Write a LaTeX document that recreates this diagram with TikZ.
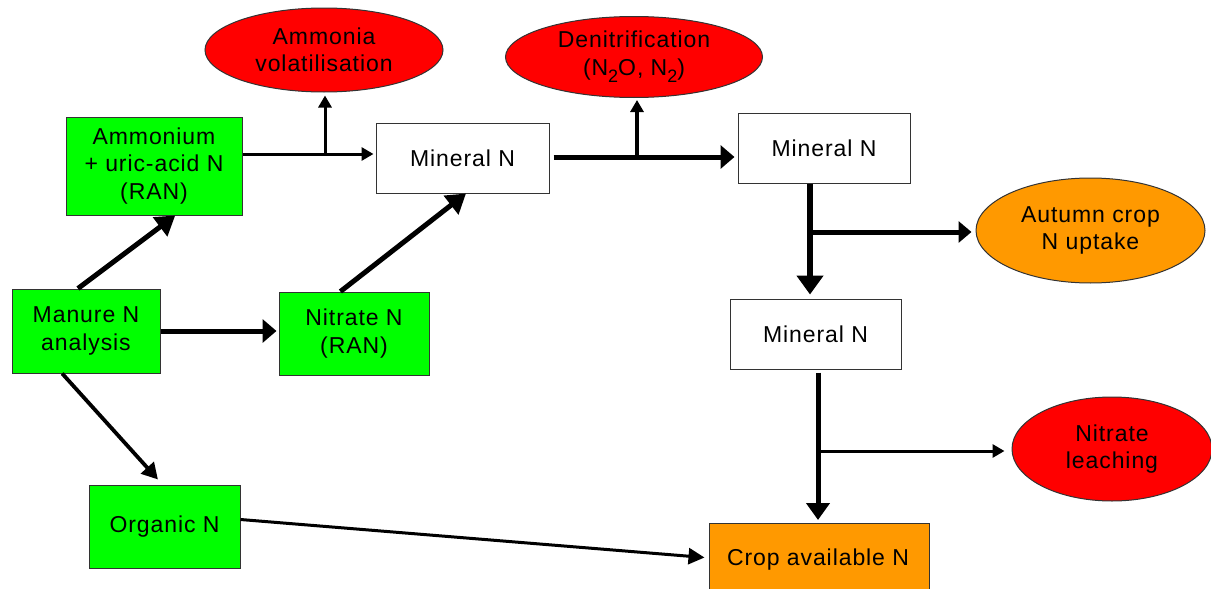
\documentclass[tikz,border=0pt]{standalone}
\usepackage{fontspec}
\setmainfont[LetterSpace=4]{Liberation Sans}
\usetikzlibrary{shapes.geometric,arrows.meta,calc}
\definecolor{brightgreen}{HTML}{00FF00}
\definecolor{brightred}{HTML}{FF0000}
\definecolor{cropor}{HTML}{FF9900}
\begin{document}
\begin{tikzpicture}[x=1pt,y=-1pt,
  lbl/.style={align=center,inner sep=0pt,font=\fontsize{23}{27.5}\selectfont},
  gbox/.style={lbl,rectangle,draw=black!80,line width=1pt,fill=brightgreen},
  wbox/.style={lbl,rectangle,draw=black!80,line width=1pt,fill=white},
  obox/.style={lbl,rectangle,draw=black!80,line width=1pt,fill=cropor},
  rell/.style={lbl,ellipse,draw=black!80,line width=1pt,fill=brightred},
  oell/.style={lbl,ellipse,draw=black!80,line width=1pt,fill=cropor},
  thinar/.style={line width=3pt,-{Triangle[length=12pt,width=13pt]}},
  thickar/.style={line width=5pt,-{Triangle[length=14pt,width=23pt]}},
  bigar/.style={line width=5.5pt,-{Triangle[length=19pt,width=26pt]}},
  midar/.style={line width=3.8pt,-{Triangle[length=16pt,width=17pt]}}
]
\useasboundingbox (0,0) rectangle (1211,589);

% nodes
\node[rell,minimum width=238pt,minimum height=84pt] (amv) at (324,50) {Ammonia\\volatilisation};
\node[rell,minimum width=257pt,minimum height=81pt] (den) at (634,57) {Denitrification\\(N\raisebox{-0.6ex}{\fontsize{18}{18}\selectfont 2}O, N\raisebox{-0.6ex}{\fontsize{18}{18}\selectfont 2})};
\node[gbox,minimum width=176pt,minimum height=98pt] (amm) at (154,166) {Ammonium\\+ uric-acid N\\(RAN)};
\node[wbox,minimum width=173pt,minimum height=70pt] (min1) at (462.5,158) {Mineral N};
\node[wbox,minimum width=172pt,minimum height=70pt] (min2) at (824,148) {Mineral N};
\node[oell,minimum width=229pt,minimum height=105pt] (aut) at (1090.5,230.5) {Autumn crop\\N uptake};
\node[wbox,minimum width=171pt,minimum height=70pt] (min3) at (815.5,334) {Mineral N};
\node[gbox,minimum width=148pt,minimum height=84pt] (man) at (86,331) {Manure N\\analysis};
\node[gbox,minimum width=150pt,minimum height=83pt] (nit) at (354,333.5) {Nitrate N\\(RAN)};
\node[rell,minimum width=200pt,minimum height=104pt] (nl) at (1112,449) {Nitrate\\leaching};
\node[gbox,minimum width=151pt,minimum height=83pt] (org) at (164.5,526.5) {Organic N};
\node[obox,minimum width=220pt,minimum height=78pt,anchor=north] (crop) at (819,523) {};
\node[lbl] (croptxt) at (818,560) {Crop available N};

% junctions
\coordinate (j1) at (325,154);
\coordinate (j2) at (637,157);
\coordinate (j3) at (810,232);
\coordinate (j4) at (818,451);

% connectors
\draw[thinar] (amm.east |- j1) -- ($(min1.west |- j1)+(-2,0)$);
\draw[thinar] (j1) -- ($(amv.south -| j1)+(0,3)$);
\draw[thickar] ($(min1.east |- j2)+(4,0)$) -- ($(min2.west |- j2)+(-3,0)$);
\draw[thinar,line width=3.5pt] (j2) -- ($(den.south -| j2)+(0,2)$);
\draw[bigar] (min2.south -| j3) -- ($(min3.north -| j3)+(0,-4)$);
\draw[thickar,-{Triangle[length=13pt,width=21pt]}] (j3) -- ($(aut.west)+(-4,1.5)$);
\draw[thickar,-{Triangle[length=17pt,width=23pt]}] ($(min3.south -| j4)+(0,3)$) -- ($(crop.north -| j4)+(0,-3)$);
\draw[thinar] (j4) -- ($(nl.west)+(-7,2)$);
\draw[thickar,-{Triangle[length=19pt,width=23pt]}] ($(man.north west)!0.446!(man.north east)$) -- ($(amm.south west)!0.62!(amm.south east)$);
\draw[thickar] (man.east) -- ($(nit.west)+(-2,-2.5)$);
\draw[thickar,-{Triangle[length=19pt,width=23pt]}] ($(nit.north west)!0.41!(nit.north east)$) -- ($(min1.south west)!0.52!(min1.south east)$);
\draw[midar] ($(man.south west)!0.34!(man.south east)$) -- ($(org.north west)!0.457!(org.north east)+(0,-5)$);
\draw[thinar,-{Triangle[length=16pt,width=16pt]}] ($(org.east)+(0,-7)$) -- ($(crop.west)+(-4,-5)$);
\end{tikzpicture}
\end{document}
